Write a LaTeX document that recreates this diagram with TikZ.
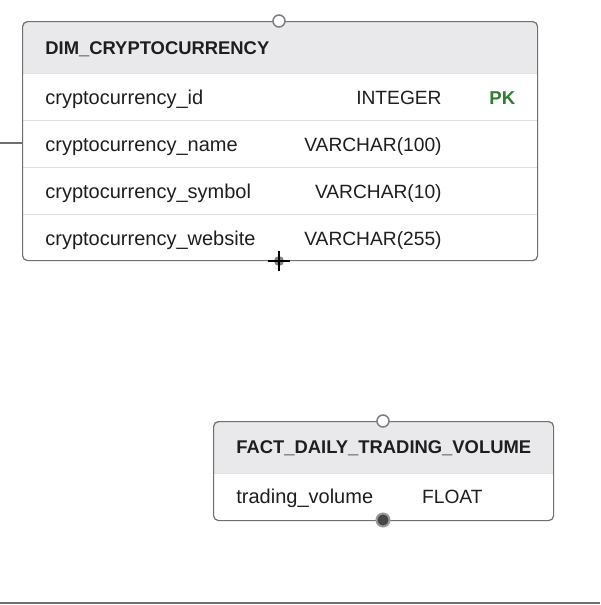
\documentclass[tikz,border=0pt]{standalone}
\usepackage{fontspec}
\setmainfont{Liberation Sans}
\usepackage{xcolor}
\usepackage{tikz}
\usetikzlibrary{positioning}

\definecolor{hdrgray}{HTML}{E9E9EB}
\definecolor{edgegray}{HTML}{707072}
\definecolor{rowline}{HTML}{E0E0E2}
\definecolor{pkgreen}{HTML}{2E7D32}
\definecolor{inkgray}{HTML}{1E1E20}

\begin{document}
\begin{tikzpicture}[x=1pt,y=-1pt,thick,
    tbl/.style={draw=edgegray,line width=1.2pt,rounded corners=5pt,inner sep=0pt,anchor=north west},
    tblname/.style={anchor=base west,inner sep=0pt,text=inkgray,font=\fontsize{18.4}{20}\selectfont\bfseries},
    colname/.style={anchor=base west,inner sep=0pt,text=inkgray,font=\fontsize{20}{22}\selectfont},
    coltype/.style={anchor=base east,inner sep=0pt,text=inkgray,font=\fontsize{19.2}{22}\selectfont},
    pkmark/.style={anchor=base west,inner sep=0pt,text=pkgreen,font=\fontsize{18.6}{20}\selectfont\bfseries},
    portopen/.style={circle,draw=edgegray!90,fill=white,line width=1.5pt,minimum size=12pt,inner sep=0pt},
    portfull/.style={circle,draw=gray!80,fill=black!72,line width=2pt,minimum size=13pt,inner sep=0pt}]
    \useasboundingbox (0,0) rectangle (600,605);

    % table DIM_CRYPTOCURRENCY
    \begin{scope}
        \clip[rounded corners=5pt] (22,21) rectangle (537,260);
        \fill[hdrgray] (22,21) rectangle (537,73);
    \end{scope}
    \foreach \y in {73,120,167,214}
        \draw[rowline,line width=1pt] (22,\y) -- (537,\y);
    \node[tbl,minimum width=515pt,minimum height=239pt] (dim) at (22,21) {};

    \node[tblname] (dimname) at (45,54) {DIM\_CRYPTOCURRENCY};
    \node[colname] (cid) at (45,104) {cryptocurrency\_id};
    \node[coltype] (cidt) at (442,104) {INTEGER};
    \node[pkmark] (cidpk) at (489,104) {PK};
    \node[colname] (cname) at (45,151) {cryptocurrency\_name};
    \node[coltype] (cnamet) at (442,151) {VARCHAR(100)};
    \node[colname] (csym) at (45,198) {cryptocurrency\_symbol};
    \node[coltype] (csymt) at (442,198) {VARCHAR(10)};
    \node[colname] (cweb) at (45,245) {cryptocurrency\_website};
    \node[coltype] (cwebt) at (442,245) {VARCHAR(255)};

    % table FACT_DAILY_TRADING_VOLUME
    \begin{scope}
        \clip[rounded corners=5pt] (213,421) rectangle (553,520);
        \fill[hdrgray] (213,421) rectangle (553,473);
    \end{scope}
    \draw[rowline,line width=1pt] (213,473) -- (553,473);
    \node[tbl,minimum width=340pt,minimum height=99pt] (fact) at (213,421) {};

    \node[tblname] (factname) at (236,453) {FACT\_DAILY\_TRADING\_VOLUME};
    \node[colname] (vol) at (236,503) {trading\_volume};
    \node[coltype] (volt) at (483,503) {FLOAT};

    % connection points
    \node[portopen] (dimtop) at (279,21) {};
    \node[portopen] (facttop) at (383,421) {};
    \node[portfull] (factbot) at (383,520) {};

    % cursor over the lower port of dim
    \coordinate (cur) at (279,261);
    \draw[white,line width=4pt] ([yshift=-10pt]cur) -- ([yshift=10pt]cur);
    \draw[white,line width=4pt] ([xshift=-11pt]cur) -- ([xshift=11pt]cur);
    \fill[gray] (cur) circle (5pt);
    \draw[black,line width=1.5pt] ([yshift=-10pt]cur) -- ([yshift=10pt]cur);
    \draw[black,line width=1.5pt] ([xshift=-11pt]cur) -- ([xshift=11pt]cur);

    % edges coming in from outside
    \coordinate (lft) at (0,143);
    \draw[edgegray,line width=1.1pt] (lft) -- (lft -| dim.west);
    \coordinate (btml) at (0,603);
    \coordinate (btmr) at (600,603);
    \draw[edgegray,line width=1.1pt] (btml) -- (btmr);
\end{tikzpicture}
\end{document}
